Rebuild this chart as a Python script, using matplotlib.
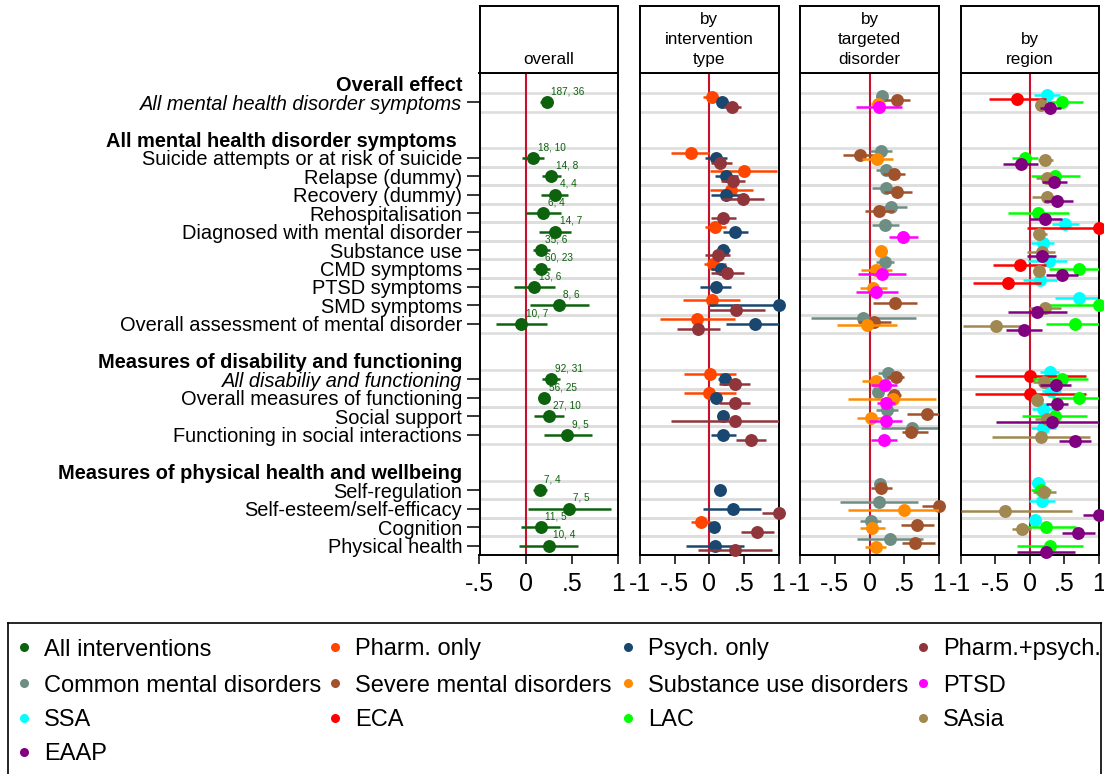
import numpy as np
import matplotlib
matplotlib.use("Agg")
import matplotlib.pyplot as plt

plt.rcParams['font.family'] = ['Liberation Sans', 'DejaVu Sans']

# ---------------------------------------------------------------- outcomes
group_headers = [
    "Overall effect",
    "All mental health disorder symptoms ",
    "Measures of disability and functioning",
    "Measures of physical health and wellbeing",
]
group_items = [
    ["All mental health disorder symptoms"],
    ["Suicide attempts or at risk of suicide", "Relapse (dummy)", "Recovery (dummy)",
     "Rehospitalisation", "Diagnosed with mental disorder", "Substance use",
     "CMD symptoms", "PTSD symptoms", "SMD symptoms",
     "Overall assessment of mental disorder"],
    ["All disabiliy and functioning", "Overall measures of functioning",
     "Social support", "Functioning in social interactions"],
    ["Self-regulation", "Self-esteem/self-efficacy", "Cognition", "Physical health"],
]
# summary rows shown in italics (index into the flat outcome list)
summary_rows = [0, 11]

# number of estimates, number of studies
study_counts = ["187, 36", "18, 10", "14, 8", "4, 4", "6, 4", "14, 7", "35, 6", "60, 23",
                "13, 6", "8, 6", "10, 7", "92, 31", "56, 25", "27, 10", "9, 5",
                "7, 4", "7, 5", "11, 5", "10, 4"]

# ---------------------------------------------------------------- estimates
# each entry: (effect size, lower 95% CI, upper 95% CI) or None when not estimated
N = None
all_interventions = [
    (0.227, 0.150, 0.295), (0.079, -0.040, 0.200), (0.277, 0.176, 0.381),
    (0.320, 0.170, 0.460), (0.190, 0.007, 0.380), (0.317, 0.144, 0.490),
    (0.165, 0.080, 0.260), (0.165, 0.083, 0.260), (0.090, -0.130, 0.320),
    (0.360, 0.043, 0.683), (-0.050, -0.320, 0.230),
    (0.270, 0.180, 0.374), (0.200, 0.160, 0.245), (0.250, 0.094, 0.417),
    (0.453, 0.194, 0.716),
    (0.151, 0.080, 0.230), (0.468, 0.020, 0.920), (0.162, -0.054, 0.374),
    (0.248, -0.075, 0.572),
]

pharm_only = [
    (0.043, -0.087, 0.125), (-0.270, -0.550, 0.000), (0.500, 0.010, 0.983),
    (0.318, 0.010, 0.627), N, (0.082, -0.067, 0.240), N, (0.058, -0.077, 0.240),
    N, (0.034, -0.376, 0.443), (-0.178, -0.718, 0.366),
    (0.005, -0.366, 0.380), (0.000, -0.366, 0.380), N, N,
    N, N, (-0.120, -0.260, 0.020), N,
]
psych_only = [
    (0.188, 0.106, 0.270), (0.096, -0.067, 0.260), (0.246, 0.087, 0.414),
    (0.240, 0.030, 0.453), N, (0.376, 0.193, 0.564), (0.200, 0.106, 0.300),
    (0.164, 0.020, 0.310), (0.092, -0.135, 0.318), (1.000, 0.000, 1.080),
    (0.660, 0.236, 1.080),
    (0.227, 0.125, 0.310), (0.096, 0.020, 0.170), (0.193, 0.125, 0.260),
    (0.200, 0.020, 0.386),
    (0.154, 0.090, 0.220), (0.337, -0.087, 0.752), (0.072, 0.030, 0.110),
    (0.087, -0.337, 0.500),
]
pharm_psych = [
    (0.333, 0.212, 0.463), (0.154, 0.020, 0.333), (0.337, 0.164, 0.510),
    (0.487, 0.183, 0.790), (0.200, 0.020, 0.390), N, (0.125, -0.067, 0.294),
    (0.250, 0.020, 0.500), N, (0.390, -0.020, 0.800), (-0.159, -0.460, 0.154),
    (0.366, 0.140, 0.583), (0.366, 0.145, 0.583), (0.366, -0.550, 1.080),
    (0.607, 0.380, 0.824),
    N, (1.000, 0.757, 1.100), (0.690, 0.463, 0.935), (0.370, -0.164, 0.900),
]

common_md = [
    (0.173, 0.120, 0.230), (0.159, 0.005, 0.318), (0.240, 0.087, 0.400),
    (0.240, 0.030, 0.448), (0.313, 0.110, 0.545), (0.227, 0.039, 0.424), N,
    (0.227, 0.100, 0.352), N, N, (-0.092, -0.843, 0.665),
    (0.270, 0.120, 0.400), (0.125, 0.080, 0.170), (0.250, 0.087, 0.410),
    (0.612, 0.159, 1.080),
    (0.149, 0.100, 0.200), (0.135, -0.429, 0.704), (0.014, -0.145, 0.169),
    (0.294, -0.178, 0.776),
]
severe_md = [
    (0.400, 0.230, 0.583), (-0.135, -0.386, 0.110), (0.352, 0.193, 0.516),
    (0.400, 0.207, 0.620), (0.135, -0.072, 0.352), N, N, N, N,
    (0.366, 0.043, 0.690), (0.063, -0.169, 0.304),
    (0.386, 0.255, 0.496), (0.352, 0.255, 0.448), (0.824, 0.535, 1.080),
    (0.593, 0.463, 0.843),
    (0.169, 0.014, 0.328), (1.000, 0.760, 1.100), (0.689, 0.458, 0.930),
    (0.655, 0.472, 0.940),
]
substance_ud = [
    (0.125, 0.024, 0.230), (0.106, -0.106, 0.342), N, N, N, N,
    (0.169, 0.100, 0.246), (0.092, -0.130, 0.328), (0.048, -0.140, 0.246), N,
    (-0.039, -0.477, 0.390),
    (0.087, -0.106, 0.255), (0.342, -0.313, 0.964), (0.014, -0.188, 0.217), N,
    N, (0.496, -0.313, 1.080), (0.039, -0.135, 0.217), (0.087, -0.072, 0.231),
]
ptsd = [
    (0.130, -0.193, 0.467), N, N, N, N, (0.487, 0.280, 0.700), N,
    (0.183, -0.164, 0.530), (0.100, -0.198, 0.410), N, N,
    (0.217, 0.014, 0.400), (0.231, 0.110, 0.361), (0.231, -0.010, 0.472),
    (0.207, 0.014, 0.390),
    N, N, N, N,
]

ssa = [
    (0.246, 0.063, 0.430), N, N, N, N, (0.516, 0.328, 0.708), (0.188, 0.024, 0.352),
    (0.284, -0.024, 0.545), (0.149, -0.100, 0.390), (0.708, 0.361, 1.080), N,
    (0.289, 0.149, 0.424), (0.313, 0.183, 0.448), (0.188, 0.039, 0.342),
    (0.198, 0.024, 0.386),
    (0.120, 0.024, 0.217), (0.178, -0.010, 0.361), (0.072, 0.030, 0.110), N,
]
eca = [
    (-0.178, -0.588, 0.231), N, N, N, N, (1.000, -0.043, 1.100), N,
    (-0.145, -0.530, 0.241), (-0.318, -0.814, 0.169), N, N,
    (0.000, -0.795, 0.810), (0.000, -0.795, 0.810), N, N,
    N, N, N, N,
]
lac = [
    (0.467, 0.255, 0.776), (-0.067, -0.260, 0.120), (0.366, 0.014, 0.728), N,
    (0.125, -0.308, 0.560), N, N, (0.708, 0.280, 1.080), N, (1.000, 0.280, 1.100),
    (0.660, 0.236, 1.080),
    (0.472, 0.053, 0.843), (0.718, 0.328, 1.080), (0.361, -0.106, 0.820), N,
    (0.164, 0.014, 0.313), N, (0.241, -0.043, 0.665), (0.294, -0.178, 0.776),
]
sasia = [
    (0.159, 0.090, 0.230), (0.222, 0.120, 0.342), (0.246, 0.087, 0.400),
    (0.246, 0.030, 0.400), N, (0.140, 0.063, 0.255), (0.178, -0.034, 0.366),
    (0.135, 0.070, 0.200), N, (0.222, -0.010, 0.448), (-0.482, -0.964, -0.130),
    (0.212, 0.053, 0.300), (0.111, 0.014, 0.198), (0.255, 0.072, 0.424),
    (0.159, -0.540, 0.863),
    (0.207, 0.053, 0.376), (-0.361, -0.998, 0.617), (-0.116, -0.250, 0.014), N,
]
eaap = [
    (0.294, 0.149, 0.448), (-0.130, -0.380, 0.120), (0.357, 0.183, 0.535),
    (0.400, 0.200, 0.620), (0.227, -0.010, 0.472), N, (0.173, -0.034, 0.380),
    (0.463, 0.231, 0.700), N, (0.111, -0.313, 0.535), (-0.077, -0.337, 0.178),
    (0.376, 0.149, 0.593), (0.390, 0.231, 0.554), (0.318, -0.487, 1.080),
    (0.655, 0.424, 0.882),
    N, (1.000, 0.776, 1.100), (0.694, 0.463, 0.940), (0.236, -0.178, 0.650),
]

# ---------------------------------------------------------------- panels
panel_titles = ["overall", "by\nintervention\ntype", "by\ntargeted\ndisorder", "by\nregion"]
panel_xlims = [(-0.5, 1.0), (-1.0, 1.0), (-1.0, 1.0), (-1.0, 1.0)]
panel_xticks = [[-0.5, 0, 0.5, 1], [-1, -0.5, 0, 0.5, 1], [-1, -0.5, 0, 0.5, 1],
                [-1, -0.5, 0, 0.5, 1]]
tick_text = {-1: "-1", -0.5: "-.5", 0: "0", 0.5: ".5", 1: "1"}

panel_series = [
    [("All interventions", all_interventions, "#0d620d")],
    [("Pharm. only", pharm_only, "#FF4500"),
     ("Psych. only", psych_only, "#1A476F"),
     ("Pharm.+psych.", pharm_psych, "#90353B")],
    [("Common mental disorders", common_md, "#6E8E84"),
     ("Severe mental disorders", severe_md, "#A0522D"),
     ("Substance use disorders", substance_ud, "#FF8C00"),
     ("PTSD", ptsd, "#FF00FF")],
    [("SSA", ssa, "#00FFFF"),
     ("ECA", eca, "#FF0000"),
     ("LAC", lac, "#00FF00"),
     ("SAsia", sasia, "#A08850"),
     ("EAAP", eaap, "#800080")],
]
# vertical offsets (in rows) of the series inside each outcome row
panel_offsets = [[0.0], [-0.27, 0.0, 0.26], [-0.34, -0.13, 0.07, 0.28],
                 [-0.39, -0.20, 0.0, 0.12, 0.33]]

# ---------------------------------------------------------------- row layout
header_pos, item_pos, item_labels = [], [], []
pos = 0
for head, items in zip(group_headers, group_items):
    header_pos.append(pos)
    pos += 1
    for it in items:
        item_pos.append(pos)
        item_labels.append(it)
        pos += 1
    pos += 1
item_pos = np.array(item_pos, dtype=float)

# ---------------------------------------------------------------- figure
W, H = 1104, 774
fig = plt.figure(figsize=(W / 100, H / 100), dpi=100)
fig.patch.set_facecolor("white")

panel_left = [479.5, 640.0, 800.3, 960.5]
panel_w = 138.5
plot_top, plot_bot = 73.3, 555.0
head_top = 6.0
red = "#C8102E"
frame_lw = 1.4

for k in range(4):
    ax = fig.add_axes([panel_left[k] / W, 1 - plot_bot / H, panel_w / W,
                       (plot_bot - plot_top) / H])
    hx = fig.add_axes([panel_left[k] / W, 1 - plot_top / H, panel_w / W,
                       (plot_top - head_top) / H])

    # header box
    hx.set_xticks([])
    hx.set_yticks([])
    for sp in hx.spines.values():
        sp.set_linewidth(frame_lw)
        sp.set_color("black")
    hx.text(0.5, 0.1, panel_titles[k], ha="center", va="bottom",
            fontsize=12.3, linespacing=1.4, transform=hx.transAxes)

    ax.set_xlim(*panel_xlims[k])
    ax.set_ylim(25.51, -0.57)
    for sp in ax.spines.values():
        sp.set_linewidth(frame_lw)
        sp.set_color("black")

    # row separators
    for p in item_pos:
        for edge in (p - 0.5, p + 0.5):
            ax.axhline(edge, color="#DEDEDE", lw=1.9, zorder=0.5)
    ax.axvline(0, color=red, lw=1.5, zorder=1.5)

    for j, (name, data, col) in enumerate(panel_series[k]):
        off = panel_offsets[k][j]
        for i, entry in enumerate(data):
            if entry is None:
                continue
            est, lo, hi = entry
            y = item_pos[i] + off
            ax.plot([lo, hi], [y, y], color=col, lw=1.8, solid_capstyle="butt",
                    zorder=2 + j)
            ax.plot([est], [y], "o", color=col, ms=9.3, mew=0, zorder=2.5 + j,
                    clip_on=False)
            if k == 0:
                ax.annotate(study_counts[i], xy=(est, y), xytext=(3.3, 7.7),
                            textcoords="offset points", ha="left", va="center",
                            fontsize=7.2, color=col, zorder=5)

    ax.set_xticks(panel_xticks[k])
    ax.set_xticklabels([tick_text[t] for t in panel_xticks[k]])
    ax.tick_params(axis="x", length=6.5, width=1.1, pad=5.5, labelsize=18)

    if k == 0:
        ax.set_yticks(item_pos)
        ax.set_yticklabels(item_labels)
        ax.tick_params(axis="y", length=9.4, width=1.1, pad=3.2, labelsize=14.4)
        for i, lab in enumerate(ax.get_yticklabels()):
            if i in summary_rows:
                lab.set_fontstyle("italic")
        for head, hp in zip(group_headers, header_pos):
            ax.annotate(head, xy=(0, hp), xycoords=("axes fraction", "data"),
                        xytext=(-12.6, 0), textcoords="offset points",
                        ha="right", va="center_baseline", fontsize=14.4,
                        fontweight="bold")
    else:
        ax.set_yticks([])

# ---------------------------------------------------------------- legend
lg_top = 623.0
lg = fig.add_axes([8 / W, 0, (1101 - 8) / W, (H - lg_top) / H])
lg.set_xlim(8, 1101)
lg.set_ylim(H, lg_top)
lg.set_xticks([])
lg.set_yticks([])
lg.spines["bottom"].set_visible(False)
for s in ("left", "top", "right"):
    lg.spines[s].set_linewidth(1.2)
    lg.spines[s].set_color("black")

legend_entries = [s for series in panel_series for s in series]
col_x = [24, 335, 628, 923]
row_y = [647, 683, 718, 752]
for n, (name, _, col) in enumerate(legend_entries):
    cx = col_x[n % 4]
    cy = row_y[n // 4]
    lg.plot([cx], [cy], "o", color=col, ms=6.5, mew=0, clip_on=False)
    lg.text(cx + 20, cy, name, ha="left", va="center_baseline", fontsize=17,
            clip_on=False)

fig.savefig("out.png", dpi=100, facecolor="white")
